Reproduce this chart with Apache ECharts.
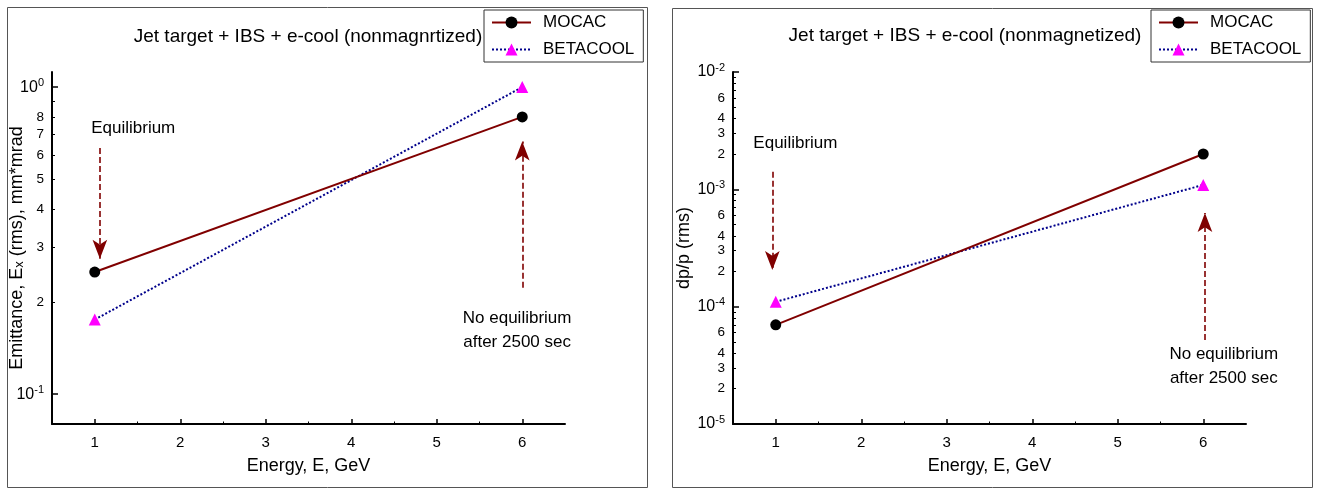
<!DOCTYPE html>
<html>
<head>
<meta charset="utf-8">
<script src="https://cdn.jsdelivr.net/npm/echarts@6/dist/echarts.min.js"></script>
<style>html,body{margin:0;padding:0;background:#fff}#c{width:1319px;height:489px}</style>
</head>
<body>
<div id="c"></div>
<script>
// ---- data ----
const energy = [1, 6];
const mocacEmittance = [0.25, 0.80];
const betacoolEmittance = [0.175, 1.0];
const mocacDpp = [7.0e-5, 2.0e-3];
const betacoolDpp = [1.1e-4, 1.09e-3];

const xTickValues = [1, 2, 3, 4, 5, 6];
const xMinorTickValues = [1.5, 2.5, 3.5, 4.5, 5.5];

const emitLabelValues = [0.1, 0.2, 0.3, 0.4, 0.5, 0.6, 0.7, 0.8, 1];
const emitLabelTexts = ['10^-1', '2', '3', '4', '5', '6', '7', '8', '10^0'];
const emitMajorTicks = [0.1, 1];
const emitMinorTicks = [0.2, 0.3, 0.4, 0.5, 0.6, 0.7, 0.8, 0.9];

const dppLabelValues = [1e-5, 2e-5, 3e-5, 4e-5, 6e-5, 1e-4, 2e-4, 3e-4, 4e-4, 6e-4, 1e-3, 2e-3, 3e-3, 4e-3, 6e-3, 1e-2];
const dppLabelTexts = ['10^-5', '2', '3', '4', '6', '10^-4', '2', '3', '4', '6', '10^-3', '2', '3', '4', '6', '10^-2'];
const dppMajorTicks = [1e-5, 1e-4, 1e-3, 1e-2];
const dppMinorTicks = [2e-5,3e-5,4e-5,5e-5,6e-5,7e-5,8e-5,9e-5,2e-4,3e-4,4e-4,5e-4,6e-4,7e-4,8e-4,9e-4,2e-3,3e-3,4e-3,5e-3,6e-3,7e-3,8e-3,9e-3];

const seriesNames = ['MOCAC', 'BETACOOL'];
const titles = ['Jet target + IBS + e-cool (nonmagnrtized)', 'Jet target + IBS + e-cool (nonmagnetized)'];

// ---- helpers ----
const L = Math.log10;
const FONT = 'Liberation Sans, Arial, sans-serif';
const MAROON = '#800000';
const NAVY = '#00008B';

function toRich(t) {
  if (t.indexOf('^') >= 0) {
    const p = t.split('^');
    return '{n|' + p[0] + '}{s|' + p[1] + '}';
  }
  return '{m|' + t + '}';
}
function makeFormatter(vals, texts) {
  return function (v) {
    for (let i = 0; i < vals.length; i++) {
      if (Math.abs(L(vals[i]) - v) < 1e-6) return toRich(texts[i]);
    }
    return '';
  };
}
const richLabels = {
  n: { fontSize: 16, lineHeight: 20, fontFamily: FONT, color: '#000' },
  s: { fontSize: 11, lineHeight: 11, verticalAlign: 'top', fontFamily: FONT, color: '#000' },
  m: { fontSize: 13.5, fontFamily: FONT, color: '#000' }
};

function xAxes(gridIndex) {
  return [{
    type: 'value', gridIndex, min: 0.5, max: 6.5, position: 'bottom',
    name: 'Energy, E, GeV', nameLocation: 'middle', nameGap: 33, nameMoveOverlap: false,
    nameTextStyle: { fontSize: 18, fontFamily: FONT, color: '#000' },
    axisLine: { show: true, onZero: false, lineStyle: { color: '#000', width: 2 } },
    axisTick: { show: true, inside: true, length: 5, customValues: xTickValues, lineStyle: { color: '#000', width: 1.5 } },
    axisLabel: { customValues: xTickValues, fontSize: 15, margin: 11, color: '#000', fontFamily: FONT },
    splitLine: { show: false }
  }, {
    type: 'value', gridIndex, min: 0.5, max: 6.5, position: 'bottom', offset: 0,
    axisLine: { show: false, onZero: false },
    axisTick: { show: true, inside: true, length: 2.5, customValues: xMinorTickValues, lineStyle: { color: '#000', width: 1 } },
    axisLabel: { show: false, customValues: xMinorTickValues },
    splitLine: { show: false }
  }];
}
function yAxes(gridIndex, min, max, name, nameGap, labelVals, labelTexts, majors, minors) {
  const lv = labelVals.map(L), mj = majors.map(L), mn = minors.map(L);
  return [{
    type: 'value', gridIndex, min, max, position: 'left',
    name, nameLocation: 'middle', nameGap, nameMoveOverlap: false,
    nameTextStyle: {
      fontSize: 18, fontFamily: FONT, color: '#000',
      rich: { sub: { fontSize: 13, verticalAlign: 'bottom', fontFamily: FONT, color: '#000' } }
    },
    axisLine: { show: true, onZero: false, lineStyle: { color: '#000', width: 2 } },
    axisTick: { show: true, inside: true, length: 6, customValues: mj, lineStyle: { color: '#000', width: 1.5 } },
    axisLabel: { customValues: lv, margin: 8, formatter: makeFormatter(labelVals, labelTexts), rich: richLabels },
    splitLine: { show: false }
  }, {
    type: 'value', gridIndex, min, max, position: 'left', offset: 0,
    axisLine: { show: false, onZero: false },
    axisTick: { show: true, inside: true, length: 3, customValues: mn, lineStyle: { color: '#000', width: 1 } },
    axisLabel: { show: false, customValues: mn },
    splitLine: { show: false }
  }];
}

function dataSeries(xi, yi, mocac, beta) {
  return [{
    name: seriesNames[0], type: 'line', xAxisIndex: xi, yAxisIndex: yi,
    data: energy.map((x, i) => [x, L(mocac[i])]),
    symbol: 'circle', symbolSize: 11,
    itemStyle: { color: '#000' },
    lineStyle: { color: MAROON, width: 2 },
    z: 5
  }, {
    name: seriesNames[1], type: 'line', xAxisIndex: xi, yAxisIndex: yi,
    data: energy.map((x, i) => [x, L(beta[i])]),
    symbol: 'triangle', symbolSize: 12,
    itemStyle: { color: '#FF00FF' },
    lineStyle: { color: NAVY, width: 2, type: [2, 2] },
    z: 4
  }];
}

function arrowSeries(xi, yi, arrows, texts) {
  return [{
    type: 'line', xAxisIndex: xi, yAxisIndex: yi, data: [], silent: true,
    markLine: {
      silent: true, animation: false,
      label: { show: false },
      lineStyle: { color: MAROON, width: 1.6, type: [6, 3] },
      emphasis: { disabled: true },
      data: arrows.map(a => [
        { coord: [a[0], L(a[1])], symbol: 'none' },
        { coord: [a[0], L(a[2])], symbol: 'arrow', symbolSize: [11, 19] }
      ])
    }
  }, {
    type: 'scatter', xAxisIndex: xi, yAxisIndex: yi, silent: true,
    symbolSize: 0, itemStyle: { color: '#000', opacity: 0 },
    data: texts.map(t => ({ value: [t[0], L(t[1])], label: { formatter: t[2] } })),
    label: { show: true, position: 'inside', fontSize: 17, lineHeight: 24, color: '#000', textBorderWidth: 0, opacity: 1, fontFamily: FONT }
  }];
}

const legendCommon = {
  data: seriesNames, orient: 'vertical', itemWidth: 39, itemHeight: 15, itemGap: 10,
  borderColor: '#333', borderWidth: 1, backgroundColor: '#fff',
  padding: [4, 9, 4, 7],
  textStyle: { fontSize: 17, lineHeight: 15, fontFamily: FONT, color: '#000', padding: [0, 0, 0, 7] },
  selectedMode: false
};

const option = {
  animation: false,
  backgroundColor: '#fff',
  title: [
    { text: titles[0], left: 303, top: 22, textAlign: 'center', textStyle: { fontSize: 19, fontWeight: 'normal', fontFamily: FONT, color: '#000' } },
    { text: titles[1], left: 960, top: 21, textAlign: 'center', textStyle: { fontSize: 19, fontWeight: 'normal', fontFamily: FONT, color: '#000' } }
  ],
  legend: [
    Object.assign({}, legendCommon, { left: 484, top: 10 }),
    Object.assign({}, legendCommon, { left: 1151, top: 10 })
  ],
  grid: [
    { left: 52, top: 72, width: 513, height: 352, outerBoundsMode: 'none', containLabel: false },
    { left: 733, top: 72, width: 513, height: 352, outerBoundsMode: 'none', containLabel: false }
  ],
  xAxis: xAxes(0).concat(xAxes(1)),
  yAxis: yAxes(0, L(0.08), L(1.12), 'Emittance, E{sub|x} (rms), mm*mrad', 26, emitLabelValues, emitLabelTexts, emitMajorTicks, emitMinorTicks)
    .concat(yAxes(1, -5, -2, 'dp/p (rms)', 40, dppLabelValues, dppLabelTexts, dppMajorTicks, dppMinorTicks)),
  graphic: [
    { type: 'rect', shape: { x: 7.5, y: 7.5, width: 640, height: 480 }, style: { fill: 'none', stroke: '#555', lineWidth: 1 }, z: -10, silent: true },
    { type: 'rect', shape: { x: 672.5, y: 8.5, width: 640, height: 479 }, style: { fill: 'none', stroke: '#555', lineWidth: 1 }, z: -10, silent: true }
  ],
  series: []
    .concat(dataSeries(0, 0, mocacEmittance, betacoolEmittance))
    .concat(dataSeries(2, 2, mocacDpp, betacoolDpp))
    .concat(arrowSeries(0, 0,
      [[1.06, 0.634, 0.276], [6.0, 0.222, 0.665]],
      [[1.45, 0.735, 'Equilibrium'], [5.94, 0.162, 'No equilibrium\nafter 2500 sec']]))
    .concat(arrowSeries(2, 2,
      [[0.96, 1.41e-3, 2.05e-4], [6.02, 5.2e-5, 6.3e-4]],
      [[1.23, 2.49e-3, 'Equilibrium'], [6.24, 3.1e-5, 'No equilibrium\nafter 2500 sec']]))
};

const chart = echarts.init(document.getElementById('c'), null, { renderer: 'canvas' });
chart.setOption(option);
</script>
</body>
</html>
